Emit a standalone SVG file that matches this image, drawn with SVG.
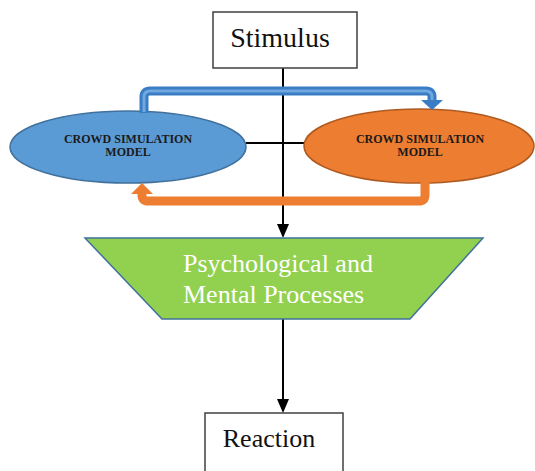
<svg xmlns="http://www.w3.org/2000/svg" width="535" height="471" viewBox="0 0 535 471">
<style>
.box{fill:#fff;stroke:#404040;stroke-width:1.5}
.big{font-family:"Liberation Serif","Times New Roman",serif;fill:#111}
.small{font-family:"Liberation Serif","Times New Roman",serif;font-weight:bold;font-size:12px;fill:#1a1a1a;text-anchor:middle}
.line{stroke:#000;stroke-width:2;fill:none}
</style>
<g id="connectors">
<path class="line" d="M283,68 V225"/>
<polygon points="277,224 289,224 283,238" fill="#000"/>
<path class="line" d="M283,319 V400"/>
<polygon points="277,399 289,399 283,413" fill="#000"/>
<path class="line" d="M246,143 H305"/>
</g>
<g id="left-ellipse">
<ellipse cx="128" cy="147" rx="118" ry="36" fill="#5B9BD5" stroke="#41719C" stroke-width="1.5"/>
<text class="small" x="128" y="143">CROWD SIMULATION</text>
<text class="small" x="128" y="156">MODEL</text>
</g>
<g id="right-ellipse">
<ellipse cx="419" cy="146" rx="115" ry="37" fill="#ED7D31" stroke="#AE5A21" stroke-width="1.5"/>
<text class="small" x="420" y="143">CROWD SIMULATION</text>
<text class="small" x="420" y="156">MODEL</text>
</g>
<g id="blue-arrow">
<path d="M144,113 V97 Q144,91 150,91 H426 Q432,91 432,97 V101" fill="none" stroke="#3A7DC4" stroke-width="9"/>
<path d="M144,112 V97 Q144,91 150,91 H426 Q432,91 432,97 V101" fill="none" stroke="#6FA9DF" stroke-width="3"/>
<polygon points="421,100 443,100 432,110" fill="#3A7DC4"/>
</g>
<g id="orange-arrow">
<path d="M425,182 V195 Q425,201 419,201 H148 Q142,201 142,195 V192" fill="none" stroke="#ED7D31" stroke-width="9"/>
<polygon points="131,194 153,194 142,183" fill="#ED7D31"/>
</g>
<g id="stimulus">
<rect class="box" x="213" y="12" width="144" height="56"/>
<text class="big" x="280" y="47" font-size="28" text-anchor="middle">Stimulus</text>
</g>
<g id="processes">
<polygon points="85,238 483,238 410,319 162,319" fill="#92D050" stroke="#41719C" stroke-width="1.5"/>
<text class="big" x="183" y="272" font-size="26" style="fill:#fff">Psychological and</text>
<text class="big" x="183" y="303" font-size="26" style="fill:#fff">Mental Processes</text>
</g>
<g id="reaction">
<rect class="box" x="205" y="413" width="138" height="70"/>
<text class="big" x="269" y="447" font-size="26" text-anchor="middle">Reaction</text>
</g>
</svg>
